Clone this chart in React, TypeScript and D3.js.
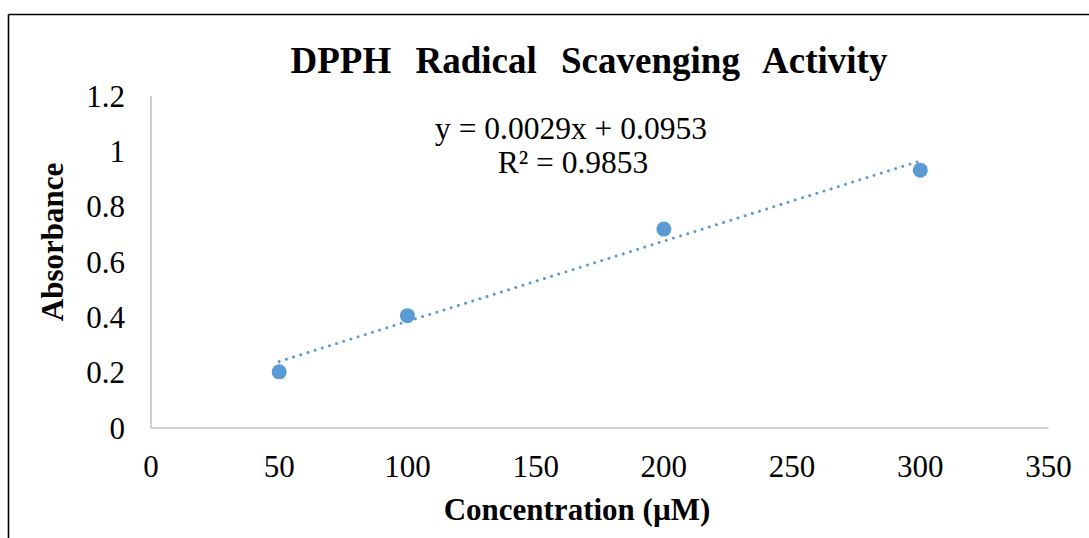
import React from "react";
import * as d3 from "d3";

const concentrations = [50, 100, 200, 300];
const absorbance = [0.203, 0.406, 0.719, 0.932];
const xTicks = [0, 50, 100, 150, 200, 250, 300, 350];
const yTicks = [0, 0.2, 0.4, 0.6, 0.8, 1, 1.2];
const slope = 0.0029;
const intercept = 0.0953;
const titleText = "DPPH Radical Scavenging Activity";
const eqText = "y = 0.0029x + 0.0953";
const r2Text = "R² = 0.9853";
const xTitle = "Concentration (µM)";
const yTitle = "Absorbance";

const W = 1089;
const H = 538;
const color = "#5B9BD5";
const font = "'Liberation Serif', 'Times New Roman', serif";

export default function App() {
  const x = d3.scaleLinear().domain([0, 350]).range([151, 1048.5]);
  const y = d3.scaleLinear().domain([0, 1.2]).range([428, 96]);
  const trendX = [d3.min(concentrations)!, d3.max(concentrations)!];
  const line = d3
    .line<number>()
    .x((d) => x(d))
    .y((d) => y(slope * d + intercept));
  const fmt = (v: number) => (Number.isInteger(v) ? String(v) : String(+v.toFixed(1)));

  return (
    <svg
      width={W}
      height={H}
      style={{ position: "absolute", left: 0, top: 0, background: "#fff" }}
      fontFamily={font}
    >
      <rect x={0} y={0} width={W} height={H} fill="#fff" />
      {/* outer frame */}
      <line x1={8.5} y1={14.5} x2={W + 5} y2={14.5} stroke="#000" strokeWidth={1.6} />
      <line x1={8.5} y1={14.5} x2={8.5} y2={H + 5} stroke="#000" strokeWidth={1.6} />

      {/* axes */}
      <line x1={x(0)} y1={y(0)} x2={x(350)} y2={y(0)} stroke="#BFBFBF" strokeWidth={1.5} />
      <line x1={x(0)} y1={y(0)} x2={x(0)} y2={y(1.2)} stroke="#BFBFBF" strokeWidth={1.5} />

      {yTicks.map((t) => (
        <text key={"y" + t} x={125} y={y(t) + 10.5} textAnchor="end" fontSize={31} fill="#000">
          {fmt(t)}
        </text>
      ))}
      {xTicks.map((t) => (
        <text key={"x" + t} x={x(t)} y={477} textAnchor="middle" fontSize={31} fill="#000">
          {t}
        </text>
      ))}

      {/* trendline */}
      <path
        d={line(trendX) || ""}
        fill="none"
        stroke={color}
        strokeWidth={3}
        strokeDasharray="0.01 7.5"
        strokeLinecap="round"
      />

      {/* points */}
      {concentrations.map((c, i) => (
        <circle key={c} cx={x(c)} cy={y(absorbance[i])} r={7.5} fill={color} />
      ))}

      {/* title */}
      <text x={589} y={73} textAnchor="middle" fontSize={37} fontWeight="bold" wordSpacing={15} fill="#000">
        {titleText}
      </text>

      {/* equation */}
      <text x={571} y={139} textAnchor="middle" fontSize={31.5} fill="#000">
        {eqText}
      </text>
      <text x={573} y={173} textAnchor="middle" fontSize={31.5} fill="#000">
        {r2Text}
      </text>

      {/* axis titles */}
      <text x={577} y={520} textAnchor="middle" fontSize={31} fontWeight="bold" fill="#000">
        {xTitle}
      </text>
      <text
        transform={`translate(63,242) rotate(-90)`}
        textAnchor="middle"
        fontSize={31}
        fontWeight="bold"
        fill="#000"
      >
        {yTitle}
      </text>
    </svg>
  );
}
